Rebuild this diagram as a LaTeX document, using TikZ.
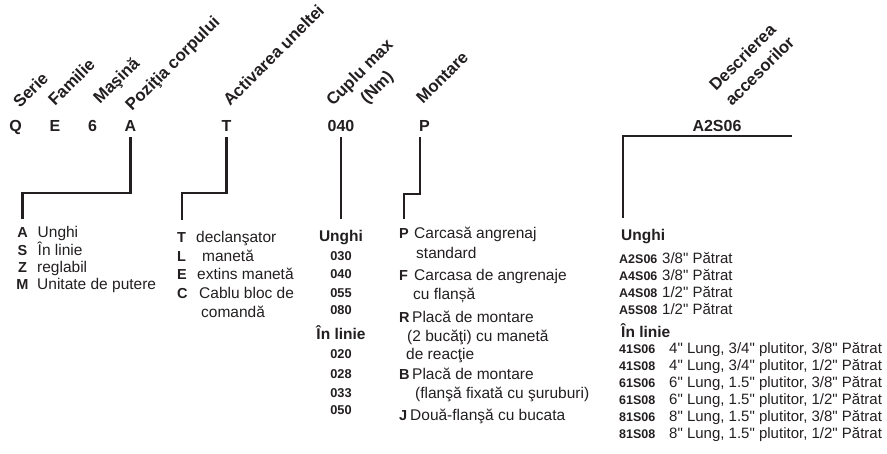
\documentclass[tikz,border=0pt]{standalone}
\usepackage{fontspec}
\setmainfont{Liberation Sans}[Ligatures=TeXOff]
\definecolor{ink}{HTML}{231F20}
\begin{document}
\begin{tikzpicture}[x=1pt,y=-1pt,color=ink,
  lbl/.style={font=\fontsize{16.8}{20}\selectfont\bfseries,rotate=45,anchor=base west,inner sep=0pt},
  codeL/.style={font=\fontsize{16}{19}\selectfont\bfseries,anchor=base,inner sep=0pt},
  keyL/.style={font=\fontsize{14.5}{17}\selectfont\bfseries,anchor=base west,inner sep=0pt},
  keyC/.style={font=\fontsize{14.5}{17}\selectfont\bfseries,anchor=base,inner sep=0pt},
  txt/.style={font=\fontsize{15.5}{18}\selectfont,anchor=base west,inner sep=0pt},
  head/.style={font=\fontsize{15.5}{18}\selectfont\bfseries,inner sep=0pt},
  num/.style={font=\fontsize{12.8}{15}\selectfont\bfseries,anchor=base,inner sep=0pt},
  acode/.style={font=\fontsize{12.5}{14}\selectfont\bfseries,anchor=base west,inner sep=0pt},
  atxt/.style={font=\fontsize{15}{17}\selectfont,anchor=base west,inner sep=0pt},
  conn/.style={line width=2.1pt}]
\useasboundingbox (0,0) rectangle (887,453);
% rotated labels
\node[lbl] (lSerie) at (20,109) {Serie};
\node[lbl] (lFam) at (55,107) {Familie};
\node[lbl] (lMas) at (100,105) {Maşină};
\node[lbl] (lPoz) at (132,112) {Poziţia corpului};
\node[lbl] (lAct) at (230,107) {Activarea uneltei};
\node[lbl] (lCup) at (333,107) {Cuplu max};
\node[lbl] (lNm) at (367,105) {(Nm)};
\node[lbl] (lMon) at (423,105) {Montare};
\node[lbl] (lDes) at (716,92) {Descrierea};
\node[lbl] (lAcc) at (732,107) {accesorilor};
% code row
\node[codeL] (cQ) at (15.5,131) {Q};
\node[codeL] (cE) at (55,131) {E};
\node[codeL] (c6) at (92.5,131) {6};
\node[codeL] (cA) at (130.5,131) {A};
\node[codeL] (cT) at (226.5,131) {T};
\node[codeL] (c040) at (341,131) {040};
\node[codeL] (cP) at (424.5,131) {P};
\node[codeL] (cAcc) at (717,131) {A2S06};
% block 1
\node[keyC] (kA) at (22.5,237.5) {A};
\node[keyC] (kS) at (22.5,255) {S};
\node[keyC] (kZ) at (22.5,272.3) {Z};
\node[keyC] (kM) at (22.5,289.5) {M};
\node[txt] (tA) at (37.5,237.5) {Unghi};
\node[txt] (tS) at (37.5,255) {În linie};
\node[txt] (tZ) at (37,272.3) {reglabil};
\node[txt] (tM) at (37,289.5) {Unitate de putere};
% block T
\node[keyL] (kT) at (177,242.5) {T};
\node[keyL] (kL) at (177,261.2) {L};
\node[keyL] (kE) at (177,279.9) {E};
\node[keyL] (kC) at (177,298.6) {C};
\node[txt] (tT) at (196,242.5) {declanşator};
\node[txt] (tL) at (202,261.2) {manetă};
\node[txt] (tE) at (197,279.9) {extins manetă};
\node[txt] (tC) at (199,298.6) {Cablu bloc de};
\node[txt] (tC2) at (201,317.3) {comandă};
% torque block
\node[head,anchor=base] (qU) at (341,241) {Unghi};
\node[num] (q1) at (341,260.7) {030};
\node[num] (q2) at (341,278) {040};
\node[num] (q3) at (341,297) {055};
\node[num] (q4) at (341,314.7) {080};
\node[head,anchor=base] (qI) at (341,339) {În linie};
\node[num] (q5) at (341,358.7) {020};
\node[num] (q6) at (341,378) {028};
\node[num] (q7) at (341,397) {033};
\node[num] (q8) at (341,414.7) {050};
% mounting block
\node[keyL] (kP) at (399,238.5) {P};
\node[keyL] (kF) at (399,280.5) {F};
\node[keyL] (kR) at (399,322.5) {R};
\node[keyL] (kB) at (399,379.5) {B};
\node[keyL] (kJ) at (399,420.5) {J};
\node[txt] (tP) at (414,238.5) {Carcasă angrenaj};
\node[txt] (tP2) at (416,258.5) {standard};
\node[txt] (tF) at (414,280.5) {Carcasa de angrenaje};
\node[txt] (tF2) at (413,299.5) {cu flanșă};
\node[txt] (tR) at (412,322.5) {Placă de montare};
\node[txt] (tR2) at (407,341.5) {(2 bucăţi) cu manetă};
\node[txt] (tR3) at (406,359.5) {de reacţie};
\node[txt] (tB) at (412,379.5) {Placă de montare};
\node[txt] (tB2) at (415,398.5) {(flanşă fixată cu şuruburi)};
\node[txt] (tJ) at (410,420.5) {Două-flanşă cu bucata};
% accessories block
\node[head,anchor=base west] (aU) at (621,240.7) {Unghi};
\node[acode] (a1) at (619,263.5) {A2S06};
\node[acode] (a2) at (619,280.3) {A4S06};
\node[acode] (a3) at (619,297) {A4S08};
\node[acode] (a4) at (619,314) {A5S08};
\node[atxt] (at1) at (662,263.5) {3/8" Pătrat};
\node[atxt] (at2) at (662,280.3) {3/8" Pătrat};
\node[atxt] (at3) at (662,297) {1/2" Pătrat};
\node[atxt] (at4) at (662,314) {1/2" Pătrat};
\node[head,anchor=base west] (aI) at (621,337) {În linie};
\node[acode] (b1) at (619,353.5) {41S06};
\node[acode] (b2) at (619,370.5) {41S08};
\node[acode] (b3) at (619,387.5) {61S06};
\node[acode] (b4) at (619,404.5) {61S08};
\node[acode] (b5) at (619,421.5) {81S06};
\node[acode] (b6) at (619,438.5) {81S08};
\node[atxt] (bt1) at (669,353.5) {4" Lung, 3/4" plutitor, 3/8" Pătrat};
\node[atxt] (bt2) at (669,370.5) {4" Lung, 3/4" plutitor, 1/2" Pătrat};
\node[atxt] (bt3) at (669,387.5) {6" Lung, 1.5" plutitor, 3/8" Pătrat};
\node[atxt] (bt4) at (669,404.5) {6" Lung, 1.5" plutitor, 1/2" Pătrat};
\node[atxt] (bt5) at (669,421.5) {8" Lung, 1.5" plutitor, 3/8" Pătrat};
\node[atxt] (bt6) at (669,438.5) {8" Lung, 1.5" plutitor, 1/2" Pătrat};
% connectors
\draw[conn] ([yshift=-6pt]cA.south) -- ++(0,56) -| ([yshift=8pt]kA.north);
\draw[conn] ([yshift=-6pt]cT.south) -- ++(0,56) -| ([yshift=12.5pt]kT.north);
\draw[conn] ([yshift=-6pt]c040.south) -- ([yshift=11pt]qU.north);
\draw[conn] ([xshift=1pt,yshift=-6pt]cP.south west) -- ++(0,57) -| ([yshift=9pt]kP.north);
\coordinate (accEnd) at (792,136);
\draw[conn] (accEnd) -| ([xshift=2pt,yshift=11pt]aU.north west);
\end{tikzpicture}
\end{document}
